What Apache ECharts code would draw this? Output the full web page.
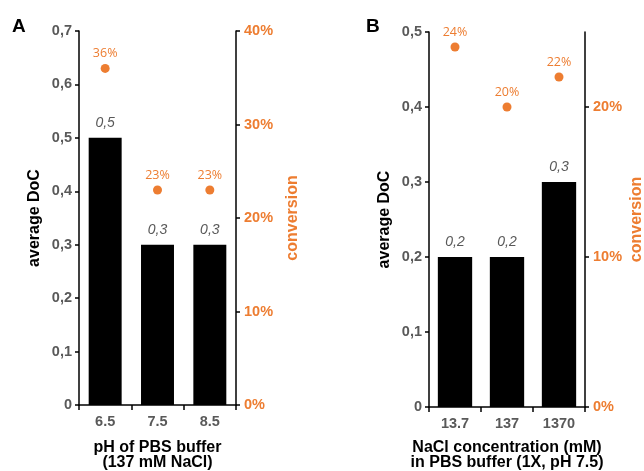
<!DOCTYPE html>
<html><head><meta charset="utf-8">
<script src="https://cdn.jsdelivr.net/npm/echarts@6/dist/echarts.min.js"></script>
<style>html,body{margin:0;padding:0;background:#fff}#c{width:644px;height:471px}</style>
</head><body><div id="c"></div>
<script>
const catsA = ['6.5', '7.5', '8.5'];
const docA = [0.5, 0.3, 0.3];
const convA = [36, 23, 23];
const catsB = ['13.7', '137', '1370'];
const docB = [0.2, 0.2, 0.3];
const convB = [24, 20, 22];
const ticksDocA = [0, 0.1, 0.2, 0.3, 0.4, 0.5, 0.6, 0.7];
const ticksConvA = [0, 10, 20, 30, 40];
const ticksDocB = [0, 0.1, 0.2, 0.3, 0.4, 0.5];
const ticksConvB = [0, 10, 20];

const FONT = '"Liberation Sans", Arial, sans-serif';
const ORANGE = '#ED7D31';
const GRAY = '#595959';
const comma = v => v === 0 ? '0' : v.toFixed(1).replace('.', ',');

function xAx(idx, cats, name, gap) {
  return {
    type: 'category', gridIndex: idx, data: cats,
    axisLine: {lineStyle: {color: '#000', width: 1.5}},
    axisTick: {show: true, length: 5, lineStyle: {color: '#000', width: 1.5}},
    axisLabel: {color: GRAY, fontWeight: 'bold', fontSize: 14.5, fontFamily: FONT, margin: 9},
    name: name, nameLocation: 'middle', nameGap: gap,
    nameTextStyle: {color: '#000', fontWeight: 'bold', fontSize: 16, fontFamily: FONT, lineHeight: 15}
  };
}
function yLeft(idx, max, ticks, gap) {
  return {
    type: 'value', gridIndex: idx, position: 'left', min: 0, max: max, interval: 0.1,
    splitLine: {show: false},
    axisLine: {show: true, lineStyle: {color: '#000', width: 1.5}},
    axisTick: {show: true, length: 4, lineStyle: {color: '#000', width: 1.5}, customValues: ticks},
    axisLabel: {color: GRAY, fontWeight: 'bold', fontSize: 14.5, fontFamily: FONT, margin: 7,
      customValues: ticks, formatter: comma},
    name: 'average DoC', nameLocation: 'middle', nameGap: gap, nameRotate: 90,
    nameTextStyle: {color: '#000', fontWeight: 'bold', fontSize: 16, fontFamily: FONT}
  };
}
function yRight(idx, max, ticks, gap) {
  return {
    type: 'value', gridIndex: idx, position: 'right', min: 0, max: max, interval: 10,
    splitLine: {show: false},
    axisLine: {show: true, lineStyle: {color: '#000', width: 1.5}},
    axisTick: {show: true, length: 4, lineStyle: {color: '#000', width: 1.5}, customValues: ticks},
    axisLabel: {color: ORANGE, fontWeight: 'bold', fontSize: 14.5, fontFamily: FONT, margin: 8,
      customValues: ticks, formatter: v => v + '%'},
    name: 'conversion', nameLocation: 'middle', nameGap: gap, nameRotate: 90,
    nameTextStyle: {color: ORANGE, fontWeight: 'bold', fontSize: 16, fontFamily: FONT}
  };
}
function bars(idx, data, w) {
  return {
    type: 'bar', xAxisIndex: idx, yAxisIndex: idx * 2, data: data, barWidth: w,
    itemStyle: {color: '#000'},
    label: {show: true, position: 'top', distance: 8, color: GRAY, fontStyle: 'italic',
      fontSize: 14, fontFamily: FONT, formatter: p => comma(p.value)}
  };
}
function dots(idx, data) {
  return {
    type: 'scatter', xAxisIndex: idx, yAxisIndex: idx * 2 + 1, data: data, symbolSize: 9,
    itemStyle: {color: ORANGE, opacity: 1},
    label: {show: true, position: 'top', distance: 4, color: ORANGE, fontSize: 12.5,
      fontFamily: '"Open Sans", sans-serif', formatter: p => p.value + '%'}
  };
}

const chart = echarts.init(document.getElementById('c'), null, {renderer: 'canvas'});
chart.setOption({
  animation: false,
  backgroundColor: '#fff',
  grid: [
    {left: 79, right: 408, top: 31, bottom: 66, containLabel: false, outerBoundsMode: 'none'},
    {left: 429, right: 59, top: 32, bottom: 64, containLabel: false, outerBoundsMode: 'none'}
  ],
  xAxis: [
    xAx(0, catsA, 'pH of PBS buffer\n(137 mM NaCl)', 35),
    xAx(1, catsB, 'NaCl concentration (mM)\nin PBS buffer (1X, pH 7.5)', 33)
  ],
  yAxis: [
    yLeft(0, 0.7, ticksDocA, 36),
    yRight(0, 40, ticksConvA, 49),
    yLeft(1, 0.5, ticksDocB, 36),
    yRight(1, 25, ticksConvB, 44)
  ],
  series: [
    bars(0, docA, '63%'), dots(0, convA),
    bars(1, docB, '66%'), dots(1, convB)
  ],
  graphic: [
    {type: 'text', left: 12, top: 17, style: {text: 'A', font: 'bold 19px ' + FONT, fill: '#000'}},
    {type: 'text', left: 366, top: 17, style: {text: 'B', font: 'bold 19px ' + FONT, fill: '#000'}}
  ]
});
</script>
</body></html>
